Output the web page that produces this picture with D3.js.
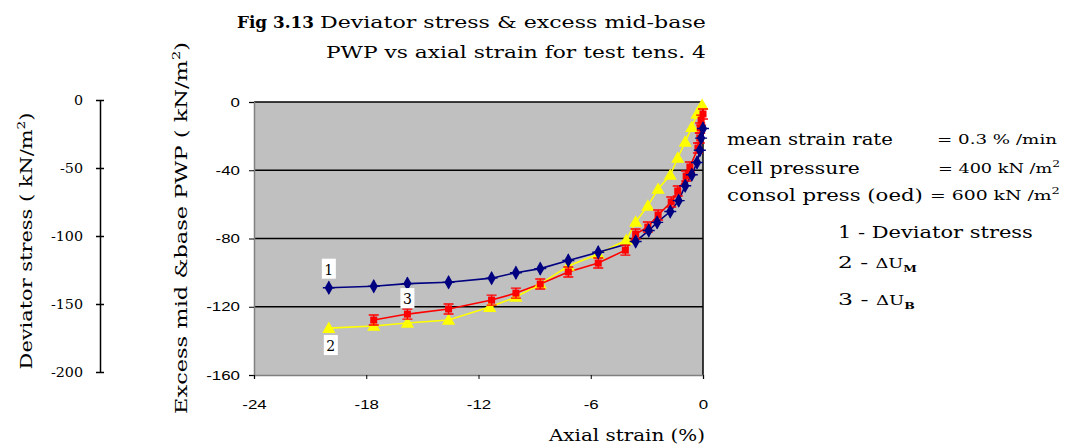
<!DOCTYPE html>
<html>
<head>
<meta charset="utf-8">
<script src="https://cdn.jsdelivr.net/npm/d3@7"></script>
<style>
  html, body { margin: 0; padding: 0; background: #ffffff; }
  svg { display: block; }
</style>
</head>
<body>
<svg id="chart" width="1068" height="447"></svg>
<script>
// Test tens. 4 — axial strain (%) for each reading
const strainDev = [-20.0, -17.6, -15.8, -13.6, -11.3, -10.0, -8.7, -7.2, -5.6, -3.6, -2.9, -2.45, -1.75, -1.3, -0.95, -0.6, -0.32, -0.17, -0.1, 0];
// Deviator stress (kN/m²), plotted against the left-hand axis
const devStress = [-138, -137, -135, -134, -131, -127, -124, -118, -112, -104, -96, -90, -82, -74, -63, -55, -46, -37, -28, -21];

// ΔU_M, excess mid-plane PWP (kN/m²)
const strainM = [-20.0, -17.6, -15.8, -13.6, -11.4, -10.0, -8.7, -7.2, -5.6, -4.1, -3.6, -2.95, -2.4, -1.75, -1.35, -0.95, -0.6, -0.32, -0.05];
const pwpM = [-132.5, -131.3, -129.5, -127.8, -120.2, -114.3, -106.7, -96.1, -89.1, -80.9, -70.3, -60.9, -51.0, -42.8, -32.8, -23.4, -14.7, -7.0, -1.8];

// ΔU_B, excess base PWP (kN/m²)
const strainB = [-17.6, -15.8, -13.6, -11.3, -10.0, -8.7, -7.2, -5.6, -4.15, -3.6, -2.95, -2.4, -1.7, -1.35, -0.9, -0.7, -0.27, -0.17, -0.15, -0.1, 0];
const pwpB = [-127.8, -124.3, -121.3, -116.1, -112.0, -106.7, -99.6, -94.4, -86.8, -77.4, -73.3, -66.2, -58.6, -52.2, -43.4, -38.1, -27.0, -21.1, -15.2, -10.6, -7.0];

const xTicks = [-24, -18, -12, -6, 0];
const yTicks = [0, -40, -80, -120, -160];
const devTicks = [0, -50, -100, -150, -200];

const svg = d3.select("#chart");
const serif = "'DejaVu Serif', serif";
const sans = "'Liberation Sans', Arial, sans-serif";
const plain = d => String(d);   // hyphen-minus tick labels

const x = d3.scaleLinear().domain([-24, 0]).range([254, 703]);
const y = d3.scaleLinear().domain([-160, 0]).range([375, 102]);
const yDev = d3.scaleLinear().domain([-200, 0]).range([372, 100]);

// widen glyphs of axis labels horizontally around their anchor
function widen(sel, s) {
  sel.each(function () {
    const t = d3.select(this);
    const x0 = +t.attr("x") || 0;
    t.attr("x", 0).attr("transform", `translate(${x0},0) scale(${s},1)`);
  });
}

// place a text so that its run spans exactly `w` pixels
function fitted(parent, px, py, w, rot, anchor, size, build) {
  const t = parent.append("text").attr("font-family", serif).attr("font-size", size)
    .attr("text-anchor", anchor || "start");
  build(t);
  const len = t.node().getComputedTextLength();
  const s = w / len;
  t.attr("transform", `translate(${px},${py})${rot ? ` rotate(${rot})` : ""} scale(${s},1)`);
  return t;
}

// plot area
svg.append("rect")
  .attr("x", x(-24)).attr("y", y(0))
  .attr("width", x(0) - x(-24)).attr("height", y(-160) - y(0))
  .attr("fill", "#c0c0c0");

// horizontal gridlines
svg.append("g").selectAll("line").data(yTicks.filter(d => d !== -160)).join("line")
  .attr("x1", x(-24)).attr("x2", x(0))
  .attr("y1", d => y(d)).attr("y2", d => y(d))
  .attr("stroke", "#000").attr("stroke-width", 1.5);

// right border
svg.append("line")
  .attr("x1", x(0)).attr("x2", x(0)).attr("y1", y(0)).attr("y2", y(-160))
  .attr("stroke", "#000").attr("stroke-width", 1.5);

// main y axis
const gy = svg.append("g").attr("transform", `translate(${x(-24)},0)`)
  .call(d3.axisLeft(y).tickValues(yTicks).tickSize(5).tickPadding(9).tickFormat(plain));
gy.select(".domain").attr("stroke", "#808080").attr("stroke-width", 1.5);
gy.selectAll(".tick line").attr("stroke", "#000");
gy.selectAll("text").attr("font-family", sans).attr("font-size", 13).attr("fill", "#000");
widen(gy.selectAll("text"), 1.3);

// x axis
const gx = svg.append("g").attr("transform", `translate(0,${y(-160)})`)
  .call(d3.axisBottom(x).tickValues(xTicks).tickSize(4).tickPadding(21).tickFormat(plain));
gx.select(".domain").attr("stroke", "#808080").attr("stroke-width", 1.5);
gx.selectAll(".tick line").attr("stroke", "#000");
gx.selectAll("text").attr("font-family", sans).attr("font-size", 13).attr("fill", "#000");
widen(gx.selectAll("text"), 1.3);

// deviator stress axis (left)
const gd = svg.append("g").attr("transform", "translate(100,0)")
  .call(d3.axisLeft(yDev).tickValues(devTicks).tickSizeInner(4).tickSizeOuter(0).tickPadding(13).tickFormat(plain));
gd.select(".domain").attr("stroke", "#000").attr("stroke-width", 1.5);
gd.selectAll(".tick line").attr("x1", 4).attr("x2", -4).attr("stroke", "#000").attr("stroke-width", 1.5);
gd.selectAll("text").attr("font-family", serif).attr("font-size", 13).attr("fill", "#000");
widen(gd.selectAll("text"), 1.1);

// series
const lineGen = d3.line().x(d => d[0]).y(d => d[1]);
const ptsDev = strainDev.map((s, i) => [x(s), yDev(devStress[i])]);
const ptsM = strainM.map((s, i) => [x(s), y(pwpM[i])]);
const ptsB = strainB.map((s, i) => [x(s), y(pwpB[i])]);

function drawLine(pts, color) {
  svg.append("path").attr("d", lineGen(pts)).attr("fill", "none")
    .attr("stroke", color).attr("stroke-width", 1.6);
}
drawLine(ptsM, "#ffff00");
drawLine(ptsB, "#ff0000");
drawLine(ptsDev, "#000080");

// yellow triangles
svg.append("g").selectAll("path").data(ptsM).join("path")
  .attr("d", d3.symbol(d3.symbolTriangle, 75))
  .attr("transform", d => `translate(${d[0]},${d[1] + 1})`)
  .attr("fill", "#ffff00");

// red squares with bar caps
const gB = svg.append("g").selectAll("g").data(ptsB).join("g")
  .attr("transform", d => `translate(${d[0]},${d[1]})`);
gB.append("rect").attr("x", -3.5).attr("y", -3.5).attr("width", 7).attr("height", 7).attr("fill", "#ff0000");
gB.append("path").attr("d", "M-5,-5H5M-5,5H5M0,-5V5").attr("stroke", "#ff0000").attr("stroke-width", 1.4);

// navy diamonds
const gD = svg.append("g").selectAll("g").data(ptsDev).join("g")
  .attr("transform", d => `translate(${d[0]},${d[1]})`);
gD.append("path").attr("d", d3.symbol(d3.symbolDiamond, 60)).attr("fill", "#000080");
gD.append("path").attr("d", "M-6,0H6M0,-6V6").attr("stroke", "#000080").attr("stroke-width", 1.4);

// curve number tags
function tag(px, py, txt) {
  svg.append("rect").attr("x", px - 7).attr("y", py - 11).attr("width", 14).attr("height", 20).attr("fill", "#fff");
  svg.append("text").attr("x", px).attr("y", py + 5).attr("text-anchor", "middle")
    .attr("font-family", serif).attr("font-size", 14).text(txt);
}
tag(ptsDev[0][0], ptsDev[0][1] - 18, "1");
tag(ptsM[0][0] + 2, ptsM[0][1] + 18, "2");
tag(ptsB[1][0], ptsB[1][1] - 15, "3");

// title
fitted(svg, 237, 28, 77, 0, "start", 17, t => t.attr("font-weight", "bold").text("Fig 3.13"));
fitted(svg, 320, 28, 386, 0, "start", 17, t => t.text("Deviator stress & excess mid-base"));
fitted(svg, 326, 58, 380, 0, "start", 17, t => t.text("PWP vs axial strain for test tens.  4"));

// axis titles
function unitTitle(label) {
  return t => {
    t.append("tspan").text(label + " ( kN/m");
    t.append("tspan").attr("font-size", 11).attr("dy", -7).text("2");
    t.append("tspan").attr("dy", 7).text(")");
  };
}
fitted(svg, 32, 241, 257, -90, "middle", 17, unitTitle("Deviator stress"));
fitted(svg, 187, 228, 372, -90, "middle", 17, unitTitle("Excess mid &base PWP"));
fitted(svg, 549, 441, 156, 0, "start", 17, t => t.text("Axial strain (%)"));

// test conditions
const condLabels = ["mean strain rate", "cell pressure", "consol press (oed)"];
const condWidths = [166, 133, 196];
const condValues = ["= 0.3  % /min", "= 400 kN /m", "=  600 kN /m"];
const condValueX = [937, 938, 930];
const condValueW = [120, 122, 130];
const condY = [145, 174, 201];
condLabels.forEach((lab, i) => {
  fitted(svg, 727, condY[i], condWidths[i], 0, "start", 17, t => t.text(lab));
  fitted(svg, condValueX[i], condY[i] - 1, condValueW[i], 0, "start", 13, t => {
    t.append("tspan").text(condValues[i]);
    if (i > 0) t.append("tspan").attr("font-size", 9).attr("dy", -6).text("2");
  });
});

// curve key
fitted(svg, 838, 238, 195, 0, "start", 17, t => t.text("1 - Deviator stress"));
fitted(svg, 838, 268, 79, 0, "start", 17, t => {
  t.append("tspan").text("2 - ");
  t.append("tspan").attr("font-size", 13).text("ΔU");
  t.append("tspan").attr("font-size", 9).attr("dy", 4).attr("font-weight", "bold").text("M");
});
fitted(svg, 838, 305, 77, 0, "start", 17, t => {
  t.append("tspan").text("3 - ");
  t.append("tspan").attr("font-size", 13).text("ΔU");
  t.append("tspan").attr("font-size", 9).attr("dy", 4).attr("font-weight", "bold").text("B");
});
</script>
</body>
</html>
